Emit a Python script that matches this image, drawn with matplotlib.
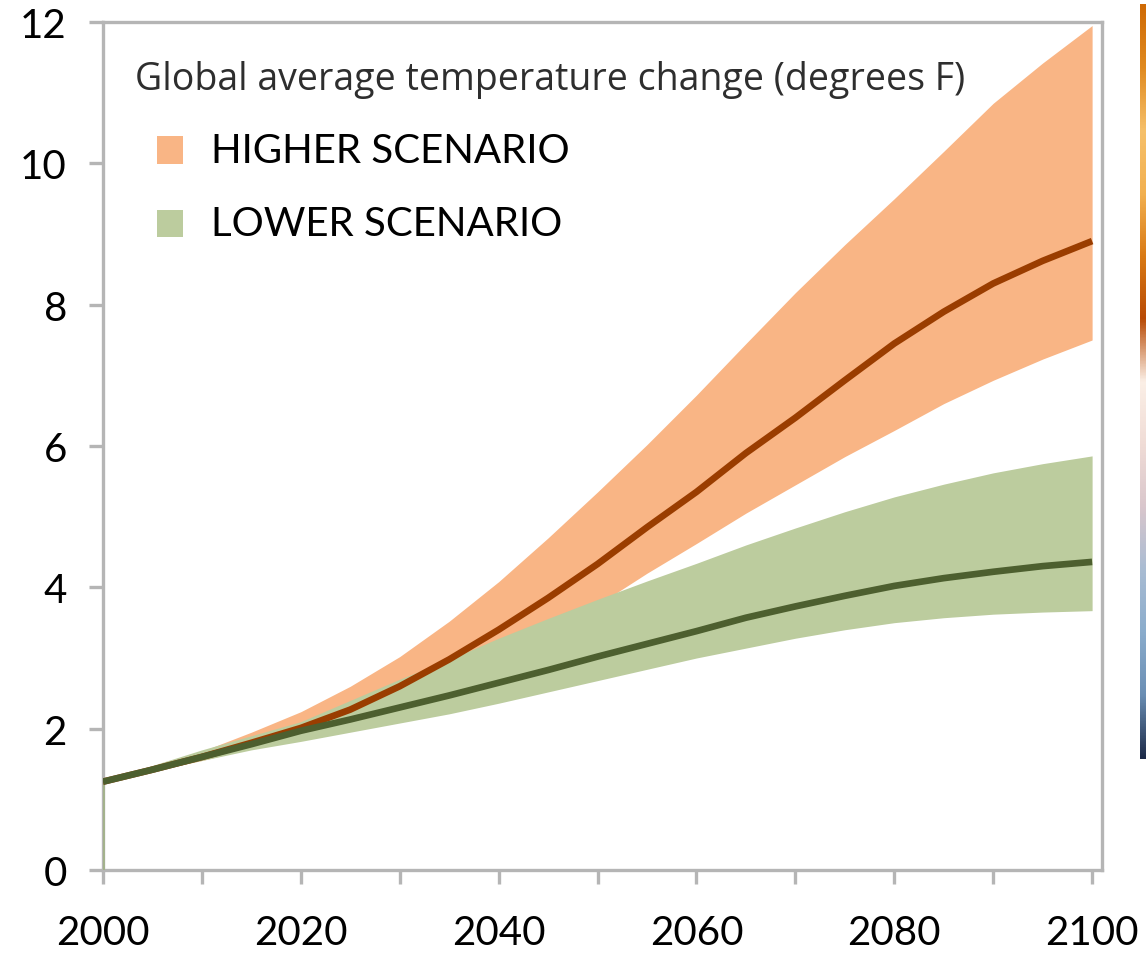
import numpy as np
import matplotlib
matplotlib.use("Agg")
import matplotlib.pyplot as plt
from matplotlib.patches import Rectangle
from matplotlib.colors import LinearSegmentedColormap

# Projected global average temperature change (degrees F)
years = [2000, 2005, 2010, 2015, 2020, 2025, 2030, 2035, 2040, 2045, 2050,
         2055, 2060, 2065, 2070, 2075, 2080, 2085, 2090, 2095, 2100]

higher_mean = [1.25, 1.42, 1.60, 1.80, 2.01, 2.27, 2.60, 2.98, 3.40, 3.85, 4.33,
               4.85, 5.35, 5.90, 6.40, 6.93, 7.45, 7.90, 8.30, 8.62, 8.90]
higher_upper = [1.25, 1.45, 1.68, 1.95, 2.24, 2.60, 3.02, 3.52, 4.08, 4.70, 5.35,
                6.02, 6.72, 7.45, 8.17, 8.85, 9.50, 10.17, 10.85, 11.42, 11.95]
higher_lower = [1.25, 1.40, 1.55, 1.72, 1.90, 2.10, 2.40, 2.73, 3.07, 3.40, 3.75,
                4.20, 4.62, 5.05, 5.45, 5.85, 6.22, 6.60, 6.93, 7.23, 7.50]

lower_mean = [1.25, 1.42, 1.60, 1.78, 1.97, 2.13, 2.30, 2.47, 2.65, 2.83, 3.02,
              3.20, 3.38, 3.57, 3.73, 3.88, 4.02, 4.13, 4.22, 4.30, 4.36]
lower_upper = [1.25, 1.48, 1.70, 1.90, 2.10, 2.40, 2.70, 2.98, 3.28, 3.56, 3.83,
               4.09, 4.34, 4.60, 4.84, 5.07, 5.28, 5.46, 5.62, 5.75, 5.86]
lower_lower = [1.25, 1.40, 1.55, 1.70, 1.82, 1.95, 2.08, 2.21, 2.36, 2.52, 2.68,
               2.84, 3.00, 3.14, 3.28, 3.40, 3.50, 3.57, 3.62, 3.65, 3.67]

xtick_labels = [2000, 2020, 2040, 2060, 2080, 2100]
yticks = [0, 2, 4, 6, 8, 10, 12]
title = "Global average temperature change (degrees F)"
legend_labels = ["HIGHER SCENARIO", "LOWER SCENARIO"]

# colour strip on the right edge (top: warm scale, bottom: cool scale)
strip_colors = ["#cf6a05", "#e08a20", "#f6c06a", "#f2b050", "#d97a15", "#b84a05",
                "#fbefe6", "#f0dcd6", "#d9c6cc", "#a9bcd3", "#8aaccc", "#6a8eb4",
                "#1c2a48"]

ORANGE = "#f9b585"
GREEN = "#bccc9e"
BROWN = "#9a3d00"
DKGREEN = "#4d5f2f"
SPINE = "#b5b5b5"

plt.rcParams["font.family"] = ["Lato", "DejaVu Sans"]

fig = plt.figure(figsize=(11.46, 9.54), dpi=100)
ax = fig.add_axes([103 / 1146, 83 / 954, (1102 - 103) / 1146, (931 - 83) / 954])

ax.fill_between(years, higher_lower, higher_upper, color=ORANGE, lw=0, zorder=1)
ax.fill_between(years, lower_lower, lower_upper, color=GREEN, lw=0, zorder=2)
ax.vlines(years[0], 0, lower_mean[0], color="#a3b28a", lw=2.0, zorder=3)
ax.plot(years, higher_mean, color=BROWN, lw=4.8, solid_capstyle="butt",
        solid_joinstyle="round", zorder=3)
ax.plot(years, lower_mean, color=DKGREEN, lw=4.8, solid_capstyle="butt",
        solid_joinstyle="round", zorder=4)

ax.set_xlim(2000, 2101)
ax.set_ylim(0, 12)
ax.set_xticks(np.arange(2000, 2101, 10))
ax.set_xticklabels([str(y) if y in xtick_labels else "" for y in range(2000, 2101, 10)])
ax.set_yticks(yticks)
ax.set_yticklabels([str(v) for v in yticks])

for side in ["left", "right", "top", "bottom"]:
    ax.spines[side].set_color(SPINE)
    ax.spines[side].set_linewidth(2.4)
ax.tick_params(axis="both", which="both", direction="out", color=SPINE,
               width=2.4, length=10, labelsize=29, labelcolor="black")
ax.tick_params(axis="x", pad=22)
ax.tick_params(axis="y", pad=16)

ax.text(0.032, 0.933, title, transform=ax.transAxes, fontsize=27,
        color="#2e2e2e", ha="left", va="center", family=["Open Sans", "DejaVu Sans"])

# legend swatches and labels
for i, (lab, col) in enumerate(zip(legend_labels, [ORANGE, GREEN])):
    yc = 0.849 - i * 0.087
    ax.add_patch(Rectangle((0.054, yc - 0.016), 0.026, 0.032, transform=ax.transAxes,
                           facecolor=col, edgecolor="none", zorder=5))
    ax.text(0.108, yc, lab, transform=ax.transAxes, fontsize=29,
            color="black", ha="left", va="center", zorder=5)

# partial colour strip at the right edge
cax = fig.add_axes([1140 / 1146, (954 - 760) / 954, 8 / 1146, (760 - 5) / 954])
cmap = LinearSegmentedColormap.from_list("strip", strip_colors)
cax.imshow(np.linspace(0, 1, 256)[:, None], aspect="auto", cmap=cmap)
cax.axis("off")

fig.savefig("out.png", dpi=100, facecolor="white")
